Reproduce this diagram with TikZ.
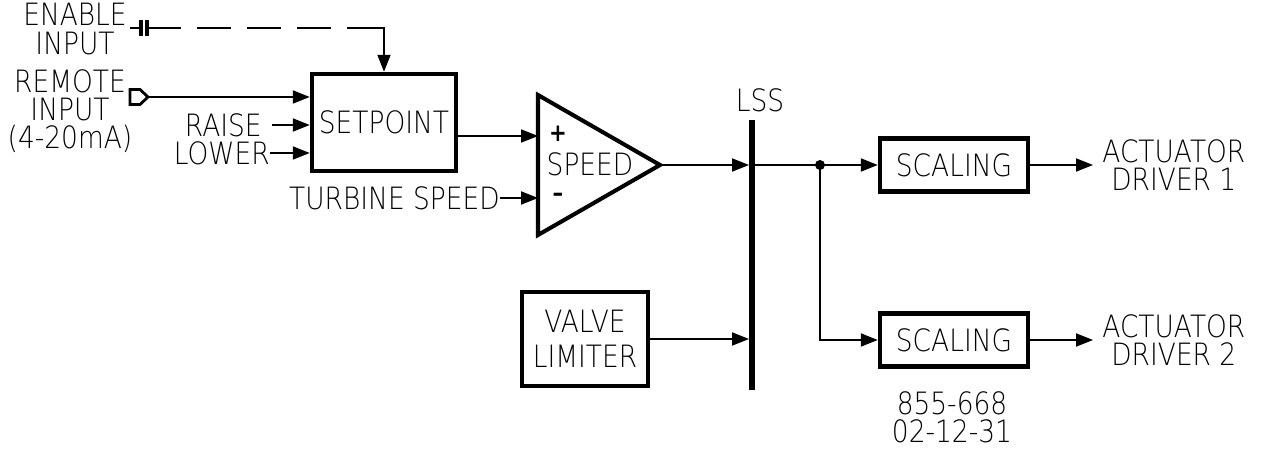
\documentclass[tikz,border=0pt]{standalone}
\usepackage{fontspec}
\setmainfont{DejaVu Sans ExtraLight}[BoldFont=DejaVu Sans Bold,FakeStretch=0.86]
\usetikzlibrary{arrows.meta}
\newcommand{\dwgfont}{\fontsize{17.5}{16}\selectfont}
\newcommand{\sgnfont}{\fontsize{14}{14}\selectfont\bfseries}
\tikzset{
	>={Triangle[length=0.34cm,width=0.26cm]},
	wire/.style={line width=1.1pt},
	lbl/.style={font=\dwgfont,inner sep=0pt,align=center},
	blk/.style={draw,line width=2.5pt,font=\dwgfont,inner sep=0pt,align=center},
}
\begin{document}
\begin{tikzpicture}
	\useasboundingbox (0,0) rectangle (25.28,9.04);
	% setpoint and its inputs
	\node[blk,minimum width=2.88cm,minimum height=1.94cm] (sp) at (7.68,6.59) {SETPOINT};
	\node[lbl] (en) at (1.5,8.46) {ENABLE\\INPUT};
	\coordinate (ent) at (2.6,8.48);
	\coordinate (c1) at (2.82,8.48);
	\coordinate (c2) at (2.94,8.48);
	\coordinate (dsh) at (6.94,8.48);
	\draw[wire] (ent) -- (c1);
	\draw[line width=1.8pt] (2.82,8.32) -- (2.82,8.64) (2.94,8.32) -- (2.94,8.64);
	\draw[wire,dash pattern=on 0.68cm off 0.32cm] (c2) -- (sp.north |- c2);
	\draw[wire,->] (dsh) -- (sp.north |- c2) -- (sp.north);
	\node[lbl] (rem) at (1.4,6.82) {REMOTE\\INPUT\\(4-20mA)};
	\coordinate (rin) at (2.96,7.10);
	\draw[wire,line width=1.6pt] (2.6,6.95) -- (2.8,6.95) -- (rin) -- (2.8,7.25) -- (2.6,7.25) -- cycle;
	\draw[wire,->] (rin) -- (sp.west |- rin);
	\node[lbl,anchor=east] (rai) at (5.24,6.54) {RAISE};
	\draw[wire,->] ([xshift=0.2cm]rai.east) -- (sp.west |- rai);
	\node[lbl,anchor=east] (low) at (5.40,5.98) {LOWER};
	\draw[wire,->] (low.east) -- (sp.west |- low);
	% speed
	\coordinate (tl) at (10.76,7.14);
	\coordinate (bl) at (10.76,4.34);
	\coordinate (tip) at (13.2,5.74);
	\draw[line width=2.3pt,line join=miter] (tl) -- (tip) -- (bl) -- cycle;
	\node[lbl] (spd) at (11.8,5.76) {SPEED};
	\node[lbl,font=\sgnfont] (pl) at (11.16,6.36) {+};
	\node[lbl,font=\sgnfont] (mi) at (11.16,5.10) {\textendash};
	\coordinate (pin) at (10.76,6.32);
	\coordinate (min) at (10.76,5.08);
	\draw[wire,->] (sp.east |- pin) -- (pin);
	\node[lbl,anchor=east] (ts) at (10.0,5.08) {TURBINE SPEED};
	\draw[wire,->] (ts.east) -- (min);
	% lss
	\coordinate (lt) at (15.04,6.64);
	\coordinate (lb) at (15.04,1.24);
	\draw[line width=3.4pt] (lt) -- (lb);
	\node[lbl] (lss) at (15.2,7.04) {LSS};
	\draw[wire,->,shorten >=1.7pt] (tip) -- (lt |- tip);
	\node[blk,minimum width=2.52cm,minimum height=1.88cm] (vl) at (11.7,2.26) {VALVE\\[4pt]LIMITER};
	\draw[wire,->,shorten >=1.7pt] (vl.east) -- (lt |- vl.east);
	% outputs
	\coordinate (jn) at (16.4,5.74);
	\draw[wire] (lt |- tip) -- (jn);
	\fill (jn) circle (0.1);
	\node[blk,minimum width=2.96cm,minimum height=1.06cm] (sc1) at (19.08,5.74) {SCALING};
	\node[blk,minimum width=2.96cm,minimum height=1.06cm] (sc2) at (19.08,2.24) {SCALING};
	\draw[wire,->] (jn) -- (sc1.west);
	\draw[wire,->] (jn) |- (sc2.west);
	\node[lbl,anchor=west] (ad1) at (22.04,5.74) {ACTUATOR\\DRIVER 1};
	\node[lbl,anchor=west] (ad2) at (22.04,2.24) {ACTUATOR\\DRIVER 2};
	\draw[wire,->] (sc1.east) -- ([xshift=-0.18cm]ad1.west);
	\draw[wire,->] (sc2.east) -- ([xshift=-0.18cm]ad2.west);
	\node[lbl] (dwg) at (19.04,0.7) {855-668\\02-12-31};
\end{tikzpicture}
\end{document}
